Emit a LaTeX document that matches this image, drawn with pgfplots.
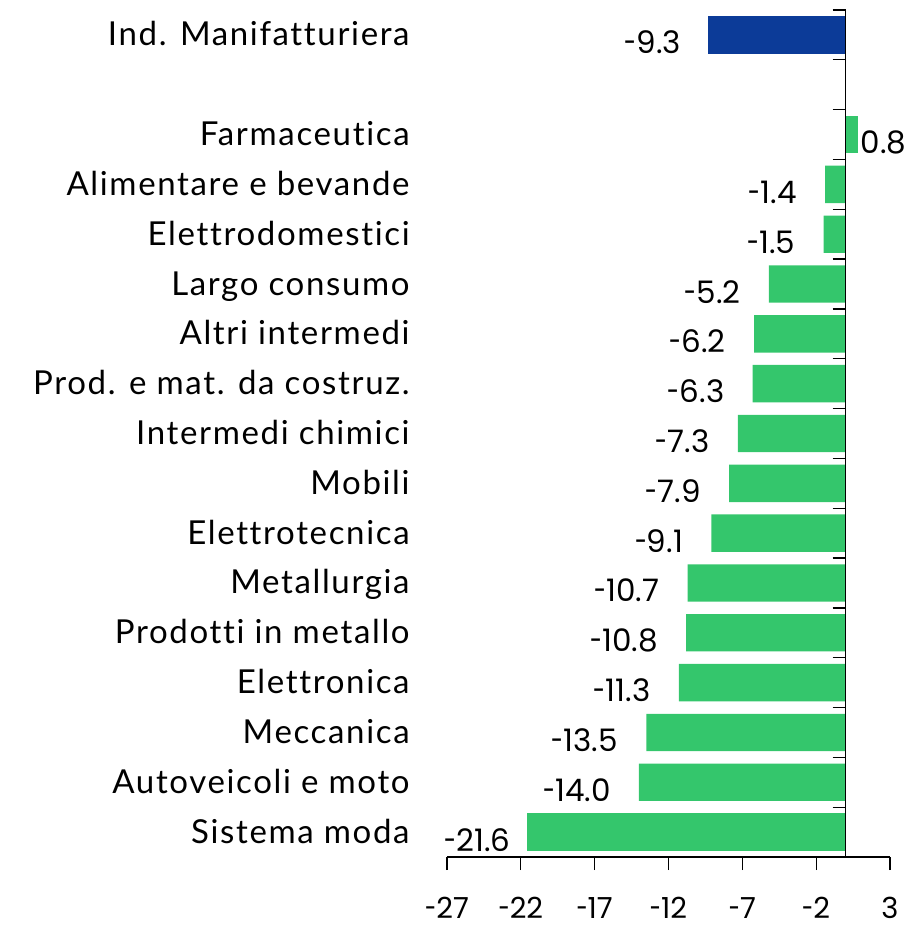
\documentclass[border=0pt]{standalone}
\usepackage{fontspec}
\setmainfont{Lato}[LetterSpace=5, Ligatures=NoCommon]
\newfontfamily\numfont{Poppins}
\usepackage{pgfplots}
\usepackage{pgfplotstable}
\pgfplotsset{compat=1.18}
\definecolor{barblue}{RGB}{12,59,152}
\definecolor{bargreen}{RGB}{52,198,108}
\newcommand\hyph{\scalebox{0.7}[1]{-}}

% slots from the top: 16 = Ind. Manifatturiera, 15 = gap, 14..0 = sectors
\pgfplotstableread{
x y lab
-1.4 13 1.4
-1.5 12 1.5
-5.2 11 5.2
-6.2 10 6.2
-6.3 9 6.3
-7.3 8 7.3
-7.9 7 7.9
-9.1 6 9.1
-10.7 5 10.7
-10.8 4 10.8
-11.3 3 11.3
-13.5 2 13.5
-14.0 1 14.0
}\greendata

\tikzset{vlab/.style={font=\numfont\fontsize{15.5}{18}\selectfont, inner sep=0pt,
  text height=11pt, text depth=0pt, yshift=-4pt}}

\begin{document}
\begin{tikzpicture}
\path[use as bounding box] (0,0) rectangle (458.5pt,465pt);
\begin{axis}[
  at={(223.5pt,36.5pt)}, anchor=south west,
  scale only axis, width=221.5pt, height=423.5pt,
  xmin=-27, xmax=3, ymin=-0.5, ymax=16.5,
  axis x line*=bottom, axis y line*=left,
  y axis line style={draw=none}, ytick style={draw=none},
  x axis line style={line width=0.65pt},
  xtick={-27,-22,-17,-12,-7,-2,3},
  xticklabels={\hyph27,\hyph22,\hyph17,\hyph12,\hyph7,\hyph2,3},
  xtick align=outside, major tick length=6.5pt,
  xtick style={line width=0.65pt, black},
  xticklabel style={font=\numfont\fontsize{14.5}{17}\selectfont, inner sep=0pt,
    text height=10pt, text depth=0pt, anchor=north, yshift=-14pt},
  ytick={16,14,13,12,11,10,9,8,7,6,5,4,3,2,1,0},
  yticklabels={Ind. Manifatturiera, Farmaceutica, Alimentare e bevande,
    Elettrodomestici, Largo consumo, Altri intermedi, Prod. e mat. da costruz.,
    Intermedi chimici, Mobili, Elettrotecnica, Metallurgia, Prodotti in metallo,
    Elettronica, Meccanica, Autoveicoli e moto, Sistema moda},
  yticklabel style={font=\fontsize{16.5}{19}\selectfont, anchor=east, inner sep=0pt,
    text height=11pt, text depth=0pt, xshift=-12pt},
  xbar, bar width=0.75,
  clip=false,
]
\addplot[fill=barblue, draw=none, bar shift=0pt,
  point meta=explicit symbolic, nodes near coords={\hyph\pgfplotspointmeta},
  every node near coord/.append style={vlab, anchor=east, xshift=-13.5pt}]
  table[meta=lab] {
x y lab
-9.3 16 9.3
};
\addplot[fill=bargreen, draw=none, bar shift=0pt,
  point meta=explicit symbolic, nodes near coords={\hyph\pgfplotspointmeta},
  every node near coord/.append style={vlab, anchor=east, xshift=-14pt}]
  table[meta=lab] {\greendata};
\addplot[fill=bargreen, draw=none, bar shift=0pt,
  point meta=explicit symbolic, nodes near coords,
  every node near coord/.append style={vlab, anchor=west, xshift=1.5pt}]
  table[meta=lab] {
x y lab
0.8 14 0.8
};
\addplot[fill=bargreen, draw=none, bar shift=0pt,
  point meta=explicit symbolic, nodes near coords={\hyph\pgfplotspointmeta},
  every node near coord/.append style={vlab, anchor=east, xshift=-8pt}]
  table[meta=lab] {
x y lab
-21.6 0 21.6
};
\draw[line width=0.65pt] (axis cs:0,-0.5) -- (axis cs:0,16.5);
\pgfplotsinvokeforeach{0.5,1.5,...,16.5}{
  \draw[line width=0.65pt] ([xshift=-6.5pt]axis cs:0,#1) -- (axis cs:0,#1);
}
\end{axis}
\end{tikzpicture}
\end{document}
